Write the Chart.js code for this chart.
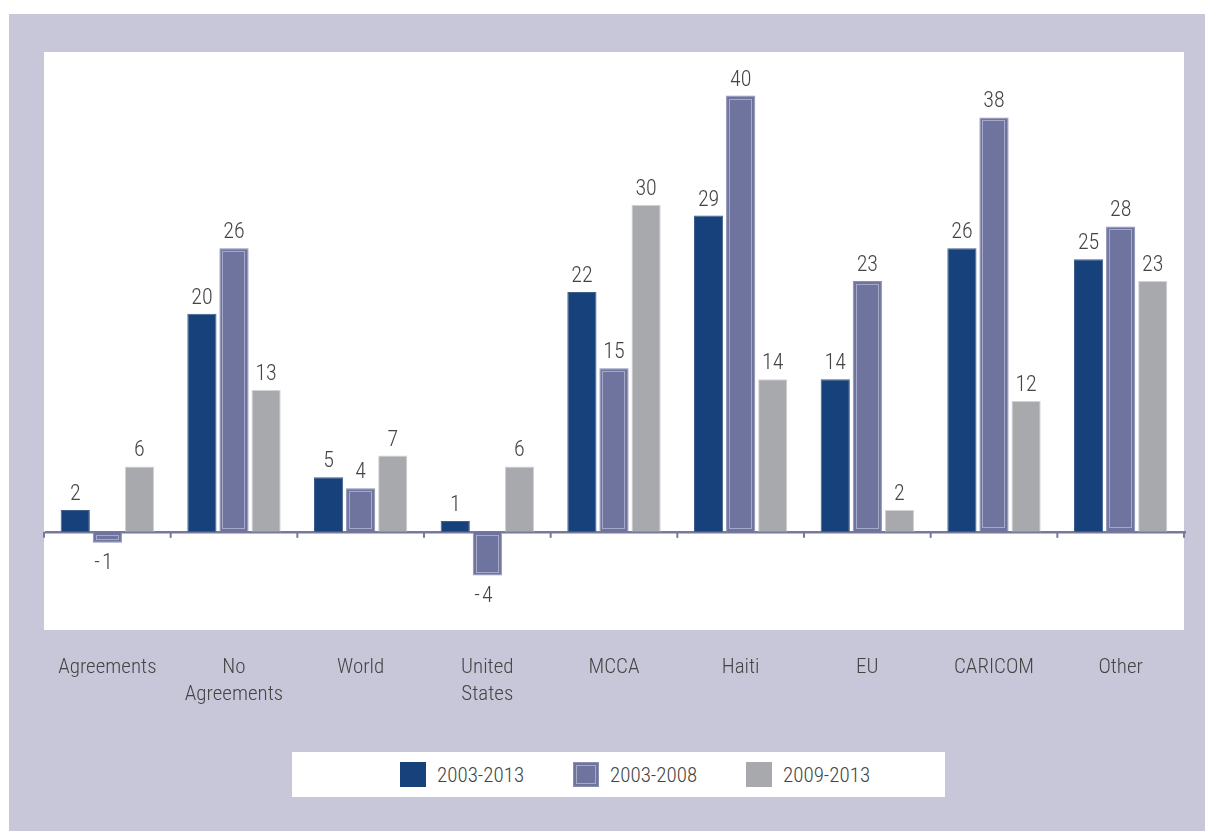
<!DOCTYPE html>
<html>
<head>
<meta charset="utf-8">
<script src="https://cdn.jsdelivr.net/npm/chart.js@4.4.1/dist/chart.umd.min.js"></script>
<style>
  html, body { margin: 0; padding: 0; background: #ffffff; }
  body { width: 1205px; height: 831px; position: relative; overflow: hidden;
         font-family: 'Roboto Condensed', 'Liberation Sans Narrow', 'DejaVu Sans Condensed', sans-serif; font-weight: 300; }
  #panel { position: absolute; left: 9px; top: 14px; right: 0; bottom: 0; background: #c8c7da; }
  #wrap { position: absolute; left: 0; top: 0; width: 1205px; height: 720px; }
  #legend { position: absolute; left: 292px; top: 752px; width: 653px; height: 45px; background: #ffffff;
            box-sizing: border-box; padding-left: 108px; display: flex; align-items: center; }
  .item { width: 173px; display: flex; align-items: center; color: #444; font-size: 21px; }
  .sw { width: 26px; height: 25px; margin-right: 11px; box-sizing: border-box; flex: none; }
</style>
</head>
<body>
<div id="panel"></div>
<div id="wrap"><canvas id="c" width="1205" height="720"></canvas></div>
<div id="legend"></div>
<script>
// Categories and the three period series (percent change)
const categories = ['Agreements', ['No', 'Agreements'], 'World', ['United', 'States'], 'MCCA', 'Haiti', 'EU', 'CARICOM', 'Other'];
const seriesNames = ['2003-2013', '2003-2008', '2009-2013'];
const values2003to2013 = [2, 20, 5, 1, 22, 29, 14, 26, 25];
const values2003to2008 = [-1, 26, 4, -4, 15, 40, 23, 38, 28];
const values2009to2013 = [6, 13, 7, 6, 30, 14, 2, 12, 23];

const FONT = "'Roboto Condensed', 'Liberation Sans Narrow', 'DejaVu Sans Condensed', sans-serif";
const TEXT = '#444444';
const fills = ['#17417a', '#6e749e', '#a8a9ad'];
const edges = ['#3e5e8c', '#8a8eb3', '#d2d3d5'];

// Zero line with boundary ticks, drawn beneath the bars
const zeroAxis = {
  id: 'zeroAxis',
  beforeDatasetsDraw(chart) {
    const {ctx, chartArea, scales: {x, y}} = chart;
    const y0 = y.getPixelForValue(0);
    const n = chart.data.labels.length;
    const step = n > 1 ? x.getPixelForValue(1) - x.getPixelForValue(0) : chartArea.width;
    ctx.save();
    ctx.strokeStyle = '#76799c';
    ctx.lineWidth = 2.5;
    ctx.beginPath();
    ctx.moveTo(chartArea.left + 1, y0 + 0.5);
    ctx.lineTo(chartArea.right + 2, y0 + 0.5);
    ctx.stroke();
    ctx.lineWidth = 2;
    for (let i = 0; i <= n; i++) {
      const px = Math.min(x.getPixelForValue(0) - step / 2 + i * step, chartArea.right + 1);
      ctx.beginPath();
      ctx.moveTo(px, y0);
      ctx.lineTo(px, y0 + 6);
      ctx.stroke();
    }
    ctx.restore();
  }
};

// Inner keyline on the 2003-2008 bars and value labels on every bar
const barDecor = {
  id: 'barDecor',
  afterDatasetsDraw(chart) {
    const {ctx} = chart;
    ctx.save();
    const inner = chart.getDatasetMeta(1);
    ctx.strokeStyle = '#a6a9c8';
    ctx.lineWidth = 1;
    inner.data.forEach(bar => {
      const p = bar.getProps(['x', 'y', 'base', 'width'], true);
      const top = Math.min(p.y, p.base), bot = Math.max(p.y, p.base);
      const l = p.x - p.width / 2, r = p.x + p.width / 2;
      ctx.strokeRect(Math.round(l) + 3.5, Math.round(top) + 3.5, Math.round(r - l) - 7, Math.round(bot - top) - 7);
    });
    ctx.fillStyle = TEXT;
    ctx.font = '300 22px ' + FONT;
    chart.data.datasets.forEach((ds, di) => {
      const meta = chart.getDatasetMeta(di);
      meta.data.forEach((bar, i) => {
        const v = ds.data[i];
        const p = bar.getProps(['x', 'y', 'base'], true);
        const digits = String(Math.abs(v));
        if (v >= 0) {
          ctx.textBaseline = 'alphabetic';
          ctx.textAlign = 'center';
          ctx.fillText(digits, p.x, p.y - 10);
        } else {
          ctx.textBaseline = 'top';
          ctx.textAlign = 'center';
          const ty = p.y + 10;
          ctx.fillText(digits, p.x, ty);
          const w = ctx.measureText(digits).width;
          ctx.textAlign = 'right';
          ctx.fillText('-', p.x - w / 2 - 2, ty);
        }
      });
    });
    ctx.restore();
  }
};

// White plotting panel
const panel = {
  id: 'panel',
  beforeDraw(chart) {
    const {ctx, chartArea} = chart;
    ctx.save();
    ctx.fillStyle = '#ffffff';
    ctx.fillRect(chartArea.left, chartArea.top, chartArea.width, chartArea.height);
    ctx.restore();
  }
};

const seriesValues = [values2003to2013, values2003to2008, values2009to2013];

new Chart(document.getElementById('c'), {
  type: 'bar',
  data: {
    labels: categories,
    datasets: seriesNames.map((name, i) => ({
      label: name,
      data: seriesValues[i],
      backgroundColor: fills[i],
      borderColor: edges[i],
      borderWidth: 1,
      categoryPercentage: 0.76,
      barPercentage: 0.91
    }))
  },
  options: {
    responsive: false,
    animation: false,
    devicePixelRatio: 1,
    layout: { padding: { left: 44, right: 21, top: 52, bottom: 0 } },
    plugins: { legend: { display: false }, tooltip: { enabled: false } },
    scales: {
      x: {
        grid: { display: false, drawTicks: false },
        border: { display: false },
        ticks: { color: TEXT, padding: 24, font: { family: FONT, size: 21, weight: 300, lineHeight: 1.3 }, maxRotation: 0, autoSkip: false },
        afterFit(scale) { scale.height = 90; }
      },
      y: { display: false, min: -9, max: 44 }
    }
  },
  plugins: [panel, zeroAxis, barDecor]
});

// Legend row
const legend = document.getElementById('legend');
seriesNames.forEach((name, i) => {
  const item = document.createElement('div');
  item.className = 'item';
  const sw = document.createElement('span');
  sw.className = 'sw';
  sw.style.background = fills[i];
  if (i === 1) sw.style.boxShadow = 'inset 0 0 0 1px #8a8eb3, inset 0 0 0 3px #6e749e, inset 0 0 0 4px #a6a9c8';
  const t = document.createElement('span');
  t.textContent = name;
  item.appendChild(sw);
  item.appendChild(t);
  legend.appendChild(item);
});
</script>
</body>
</html>
